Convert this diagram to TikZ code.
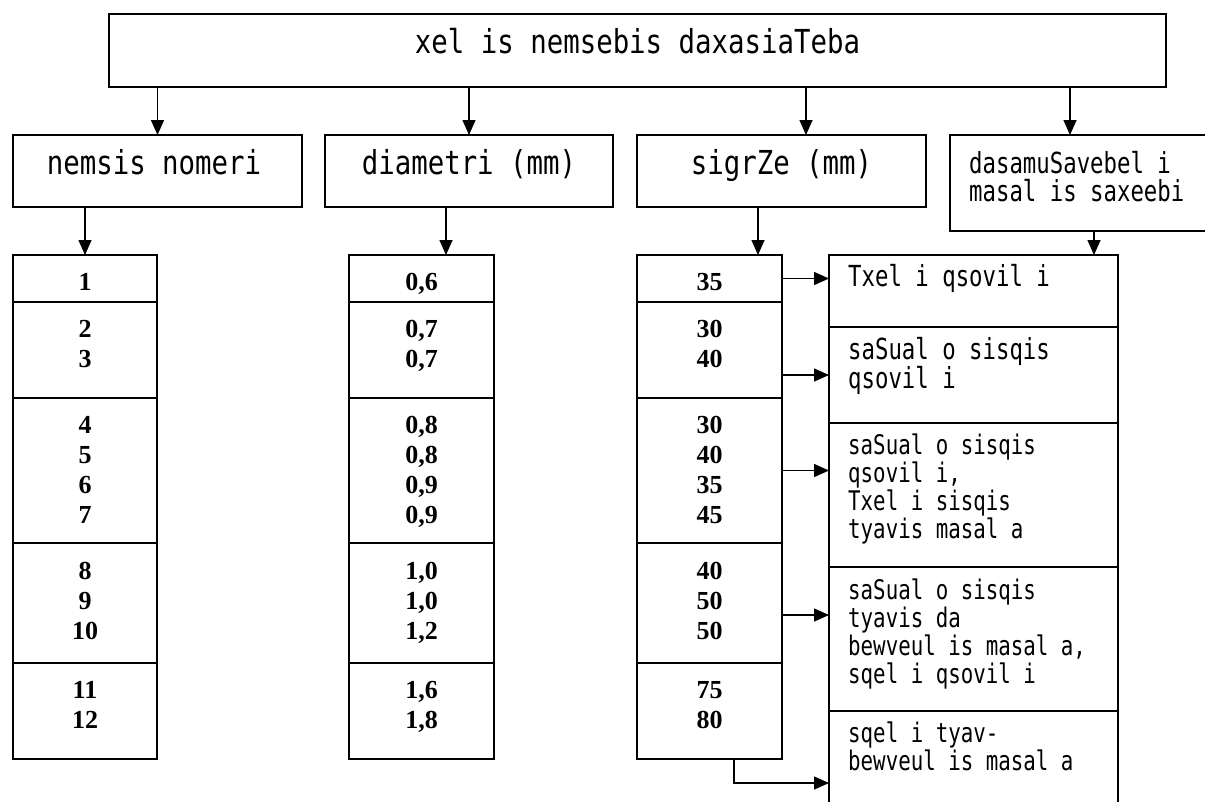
\documentclass[tikz,border=0pt]{standalone}
\usepackage{fontspec}
\usetikzlibrary{arrows.meta,calc}
\newfontfamily\gA[FakeStretch=0.83]{DejaVu Sans Mono}
\newfontfamily\gB[FakeStretch=0.77]{DejaVu Sans Mono}
\newfontfamily\numf{Liberation Serif}
\lineskiplimit=-50pt
\begin{document}
\begin{tikzpicture}[x=1pt,y=-1pt,
  box/.style={draw,line width=1.6pt,inner sep=0pt,outer sep=0pt},
  arr/.style={-{Triangle[length=15pt,width=13pt]},line width=1.5pt},
  bigtxt/.style={font=\gA\fontsize{33}{33}\selectfont,anchor=base,inner sep=0pt},
  midtxt/.style={font=\gB\fontsize{29}{29}\selectfont,align=left,anchor=north west,inner sep=0pt},
  smltxt/.style={font=\gB\fontsize{27}{28}\selectfont,align=left,anchor=north west,inner sep=0pt},
  numtxt/.style={font=\numf\bfseries\fontsize{26}{30}\selectfont,align=center,anchor=north,inner sep=0pt}]
\useasboundingbox (0,0) rectangle (1205,801);
\fill[white] (0,0) rectangle (1205,801);
\clip (0,0) rectangle (1205,801);

% header boxes
\node[box,minimum width=1057pt,minimum height=73pt] (title) at (637.5,50.5) {};
\node[bigtxt] (titletxt) at (637.5,53) {xel is nemsebis daxasiaTeba};

\node[box,minimum width=289pt,minimum height=72pt] (b1) at (157.5,171) {};
\node[box,minimum width=288pt,minimum height=72pt] (b2) at (469,171) {};
\node[box,minimum width=289pt,minimum height=72pt] (b3) at (781.5,171) {};
\node[box,minimum width=265pt,minimum height=96pt] (b4) at (1082.5,183) {};
\node[bigtxt] (b1txt) at (154,174.5) {nemsis nomeri};
\node[bigtxt] (b2txt) at (469,174.5) {diametri (mm)};
\node[bigtxt] (b3txt) at (781.5,174.5) {sigrZe (mm)};
\node[midtxt] (b4txt) at (969,151) {dasamuSavebel i\\[-1pt]masal is saxeebi};

% column 1
\node[box,minimum width=144pt,minimum height=47pt] (c11) at (85,278.5) {};
\node[box,minimum width=144pt,minimum height=96pt] (c12) at (85,350) {};
\node[box,minimum width=144pt,minimum height=145pt] (c13) at (85,470.5) {};
\node[box,minimum width=144pt,minimum height=120pt] (c14) at (85,603) {};
\node[box,minimum width=144pt,minimum height=96pt] (c15) at (85,711) {};
\node[numtxt] (n11) at (85,273.5) {1};
\node[numtxt] (n12) at (85,320.5) {2\\3};
\node[numtxt] (n13) at (85,416.5) {4\\5\\6\\7};
\node[numtxt] (n14) at (85,561.5) {8\\9\\10};
\node[numtxt] (n15) at (85,681.5) {11\\12};

% column 2
\node[box,minimum width=145pt,minimum height=47pt] (c21) at (421.5,278.5) {};
\node[box,minimum width=145pt,minimum height=96pt] (c22) at (421.5,350) {};
\node[box,minimum width=145pt,minimum height=145pt] (c23) at (421.5,470.5) {};
\node[box,minimum width=145pt,minimum height=120pt] (c24) at (421.5,603) {};
\node[box,minimum width=145pt,minimum height=96pt] (c25) at (421.5,711) {};
\node[numtxt] (n21) at (421.5,273.5) {0,6};
\node[numtxt] (n22) at (421.5,320.5) {0,7\\0,7};
\node[numtxt] (n23) at (421.5,416.5) {0,8\\0,8\\0,9\\0,9};
\node[numtxt] (n24) at (421.5,561.5) {1,0\\1,0\\1,2};
\node[numtxt] (n25) at (421.5,681.5) {1,6\\1,8};

% column 3
\node[box,minimum width=145pt,minimum height=47pt] (c31) at (709.5,278.5) {};
\node[box,minimum width=145pt,minimum height=96pt] (c32) at (709.5,350) {};
\node[box,minimum width=145pt,minimum height=145pt] (c33) at (709.5,470.5) {};
\node[box,minimum width=145pt,minimum height=120pt] (c34) at (709.5,603) {};
\node[box,minimum width=145pt,minimum height=96pt] (c35) at (709.5,711) {};
\node[numtxt] (n31) at (709.5,273.5) {35};
\node[numtxt] (n32) at (709.5,320.5) {30\\40};
\node[numtxt] (n33) at (709.5,416.5) {30\\40\\35\\45};
\node[numtxt] (n34) at (709.5,561.5) {40\\50\\50};
\node[numtxt] (n35) at (709.5,681.5) {75\\80};

% right column
\node[box,minimum width=289pt,minimum height=72pt] (R1) at (973.5,291) {};
\node[box,minimum width=289pt,minimum height=96pt] (R2) at (973.5,375) {};
\node[box,minimum width=289pt,minimum height=144pt] (R3) at (973.5,495) {};
\node[box,minimum width=289pt,minimum height=144pt] (R4) at (973.5,639) {};
\node[box,minimum width=289pt,minimum height=144pt] (R5) at (973.5,783) {};
\node[midtxt] (t1) at (848,264.5) {Txel i qsovil i};
\node[midtxt] (t2) at (848,337) {saSual o sisqis\\qsovil i};
\node[smltxt] (t3) at (848,434) {saSual o sisqis\\qsovil i,\\Txel i sisqis\\tyavis masal a};
\node[smltxt] (t4) at (848,579) {saSual o sisqis\\tyavis da\\bewveul is masal a,\\sqel i qsovil i};
\node[smltxt] (t5) at (848,722) {sqel i tyav-\\bewveul is masal a};

% connector anchors
\coordinate (a3) at ($(b3.north)+(24.5,0)$);
\coordinate (a4) at ($(b4.north)+(-12.5,0)$);
\coordinate (a5) at ($(c21.north)+(24.5,0)$);
\coordinate (a6) at ($(c31.north)+(48.5,0)$);
\coordinate (a7) at ($(R1.north)+(120.5,0)$);
\coordinate (a8) at ($(c34.east)+(0,12)$);
\coordinate (a9) at ($(c35.south)+(24.5,0)$);

% connectors
\draw[arr] (b1.north |- title.south) -- (b1.north);
\draw[arr] (b2.north |- title.south) -- (b2.north);
\draw[arr] (a3 |- title.south) -- (a3);
\draw[arr] (a4 |- title.south) -- (a4);
\draw[arr] (c11.north |- b1.south) -- (c11.north);
\draw[arr] (a5 |- b2.south) -- (a5);
\draw[arr] (a6 |- b3.south) -- (a6);
\draw[arr] (a7 |- b4.south) -- (a7);
\draw[arr] (c31.east) -- (c31.east -| R1.west);
\draw[arr] (R2.west -| c32.east) -- (R2.west);
\draw[arr] (c33.east) -- (c33.east -| R3.west);
\draw[arr] (a8) -- (a8 -| R4.west);
\draw[arr] (a9) |- (R5.west);
\end{tikzpicture}
\end{document}
